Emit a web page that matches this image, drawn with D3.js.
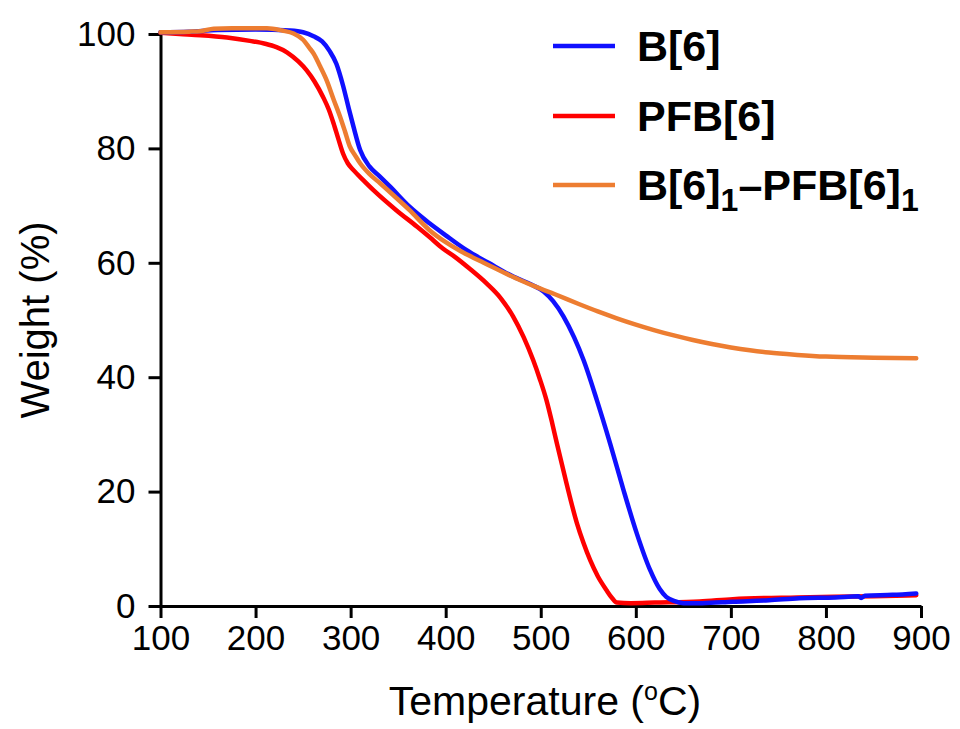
<!DOCTYPE html>
<html>
<head>
<meta charset="utf-8">
<script src="https://cdn.jsdelivr.net/npm/d3@7/dist/d3.min.js"></script>
<style>
  html, body { margin: 0; padding: 0; background: #fff; }
  svg { display: block; }
  text { font-family: "Liberation Sans", Arial, sans-serif; fill: #000; }
</style>
</head>
<body>
<svg id="chart" width="960" height="729"></svg>
<script>
// Thermogravimetric curves: [temperature (°C), weight (%)]
const b6 = [
  [100,100.3],[130,100.4],[160,100.7],[200,100.8],[236,100.6],[250,100.3],[261,99.6],
  [270,98.7],[278,97.0],[285,94.8],[292,91.0],[298,87.0],[303,83.8],[310,79.7],
  [320,76.8],[330,75.2],[341,73.4],[362,69.8],[383,66.9],[400,64.8],[422,62.2],
  [445,60.0],[471,57.6],[490,56.2],[503,55.0],[513,53.3],[524,50.6],[535,47.0],
  [545,43.0],[559,36.0],[573,28.4],[587,20.3],[601,12.7],[615,6.3],[625,3.0],
  [632,1.6],[640,0.9],[650,0.5],[670,0.5],[702,0.75],[740,1.0],[772,1.35],
  [810,1.5],[834,1.7],[837,1.4],[841,1.8],[870,1.95],[895,2.2]
];
const pfb6 = [
  [100,100.2],[120,100.0],[142,99.8],[170,99.4],[194,98.8],[210,98.3],[222,97.7],
  [233,96.8],[245,95.2],[254,93.6],[262,91.7],[271,89.0],[277,86.8],[282,84.4],
  [287,81.7],[292,79.1],[297,77.4],[303,76.2],[313,74.5],[324,72.7],[348,69.2],
  [370,66.3],[383,64.5],[397,62.5],[410,61.0],[425,59.0],[443,56.4],[458,53.8],[471,50.6],
  [482,47.0],[492,43.0],[499,39.7],[506,36.0],[512,32.0],[517,28.4],[527,21.5],
  [538,14.5],[545,11.0],[552,8.0],[560,5.2],[569,2.8],[575,1.4],[580,0.6],
  [595,0.5],[620,0.6],[667,0.8],[702,1.2],[770,1.5],[850,1.7],[895,1.9]
];
const blend = [
  [100,100.3],[130,100.4],[142,100.5],[156,100.9],[175,101.0],[212,101.0],[228,100.6],
  [240,100.1],[250,99.0],[257,97.5],[261,96.6],[268,94.3],[275,91.8],[282,88.6],
  [289,85.5],[294,83.0],[299,80.4],[305,78.7],[310,77.4],[320,75.5],[331,73.9],
  [347,71.5],[362,69.2],[383,65.7],[400,63.6],[415,62.1],[440,60.0],[460,58.4],
  [478,57.0],[495,55.8],[515,54.5],[540,52.8],[560,51.5],[580,50.3],[600,49.2],
  [620,48.2],[640,47.3],[660,46.5],[680,45.8],[700,45.2],[720,44.7],[740,44.3],
  [770,43.9],[800,43.6],[850,43.4],[895,43.3]
];

const xTicks = [100, 200, 300, 400, 500, 600, 700, 800, 900];
const yTicks = [0, 20, 40, 60, 80, 100];

const seriesNames = ["B[6]", "PFB[6]", "B[6]1–PFB[6]1"];
const seriesColors = ["#1010ff", "#ff0000", "#ed7d31"];
const seriesData = [b6, pfb6, blend];

const svg = d3.select("#chart");
const plotLeft = 160.5, plotRight = 921, plotTop = 34, plotBottom = 606;

const x = d3.scaleLinear().domain([100, 900]).range([plotLeft, plotRight]);
const y = d3.scaleLinear().domain([0, 100]).range([plotBottom, plotTop]);

// Axes
const xAxis = svg.append("g")
  .attr("transform", `translate(0,${plotBottom})`)
  .call(d3.axisBottom(x).tickValues(xTicks).tickSize(12).tickSizeOuter(0).tickPadding(7));
const yAxis = svg.append("g")
  .attr("transform", `translate(${plotLeft},0)`)
  .call(d3.axisLeft(y).tickValues(yTicks).tickSize(12).tickSizeOuter(0).tickPadding(13));

[xAxis, yAxis].forEach(g => {
  g.select(".domain").attr("stroke", "#000").attr("stroke-width", 3);
  g.selectAll(".tick line").attr("stroke", "#000").attr("stroke-width", 3);
  g.selectAll(".tick text").attr("font-size", 35).attr("font-family", "Liberation Sans, Arial, sans-serif").attr("fill", "#000");
});

// Curves (drawn red, blue, orange so the blend sits on top)
const line = d3.line().x(d => x(d[0])).y(d => y(d[1])).curve(d3.curveMonotoneX);
[1, 0, 2].forEach(i => {
  svg.append("path")
    .datum(seriesData[i])
    .attr("fill", "none")
    .attr("stroke", seriesColors[i])
    .attr("stroke-width", 4.5)
    .attr("stroke-linejoin", "round")
    .attr("stroke-linecap", "round")
    .attr("d", line);
});

// Axis titles
svg.append("text")
  .attr("x", 545).attr("y", 715)
  .attr("text-anchor", "middle")
  .attr("font-size", 41)
  .call(t => {
    t.append("tspan").text("Temperature (");
    t.append("tspan").attr("font-size", 25).attr("dy", -15).text("o");
    t.append("tspan").attr("dy", 15).text("C)");
  });

svg.append("text")
  .attr("transform", "translate(49,320) rotate(-90)")
  .attr("text-anchor", "middle")
  .attr("font-size", 40)
  .text("Weight (%)");

// Legend
const legendY = [46, 116, 185];
seriesNames.forEach((name, i) => {
  const g = svg.append("g").attr("transform", `translate(0,${legendY[i]})`);
  g.append("line")
    .attr("x1", 553).attr("x2", 615)
    .attr("stroke", seriesColors[i]).attr("stroke-width", 4.5);
  const t = g.append("text")
    .attr("x", 637).attr("y", 15)
    .attr("font-size", 43).attr("font-weight", "bold");
  if (i === 2) {
    t.append("tspan").text("B[6]");
    t.append("tspan").attr("font-size", 32).attr("dy", 11).text("1");
    t.append("tspan").attr("dy", -11).text("–PFB[6]");
    t.append("tspan").attr("font-size", 32).attr("dy", 11).text("1");
  } else {
    t.text(name);
  }
});
</script>
</body>
</html>
